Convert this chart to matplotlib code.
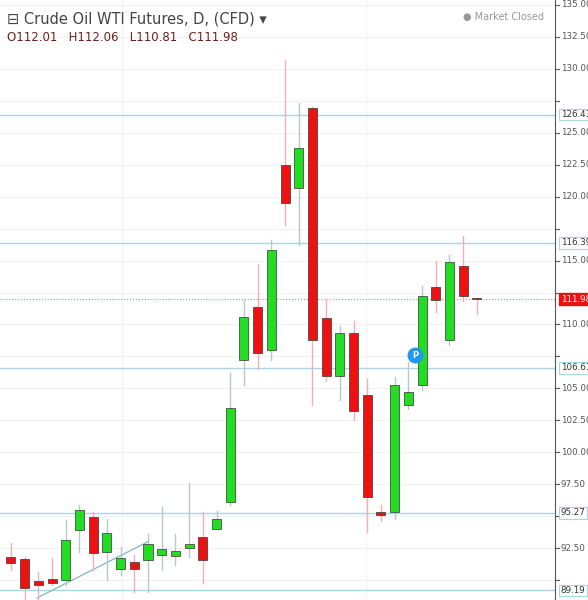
import matplotlib.pyplot as plt
import numpy as np

# daily candles
opens  = [91.8, 91.65, 89.9, 90.1, 90.0, 93.9, 94.9, 92.2, 90.9, 91.4, 91.6, 92.0, 91.9, 92.5, 93.4,
          94.0, 96.1, 107.2, 111.4, 108.0, 122.5, 120.7, 126.9, 110.5, 106.0, 109.3, 104.5, 95.3,
          95.3, 103.7, 105.3, 112.9, 108.8, 114.6, 112.01]
closes = [91.3, 89.4, 89.6, 89.8, 93.1, 95.5, 92.1, 93.7, 91.7, 90.9, 92.8, 92.4, 92.3, 92.8, 91.6,
          94.8, 103.5, 110.6, 107.8, 115.8, 119.5, 123.8, 108.8, 106.0, 109.3, 103.2, 96.5, 95.1,
          105.3, 104.7, 112.2, 111.9, 114.9, 112.2, 111.98]
highs  = [92.9, 91.8, 90.6, 91.7, 94.7, 95.9, 95.3, 94.8, 92.6, 92.0, 93.6, 95.7, 93.6, 97.6, 95.3,
          95.4, 106.2, 111.9, 114.7, 116.6, 130.7, 127.3, 127.0, 111.9, 109.9, 110.3, 105.7, 95.9,
          105.9, 107.1, 113.0, 115.0, 115.4, 116.9, 112.06]
lows   = [90.8, 88.4, 88.5, 89.6, 89.6, 92.2, 90.8, 90.0, 90.4, 89.1, 89.1, 90.8, 91.2, 91.8, 89.8,
          94.6, 95.9, 105.3, 106.5, 107.2, 117.8, 116.2, 103.7, 105.6, 104.1, 102.5, 93.8, 94.6,
          94.8, 103.4, 104.9, 111.0, 108.4, 111.8, 110.81]
levels = [126.43, 116.39, 106.61, 95.27, 89.19]
last_price = 111.98
yticks = np.arange(90, 135.1, 2.5)

fig = plt.figure(figsize=(5.88, 6), dpi=100)
ax = fig.add_axes([0, 0, 555 / 588, 1])
ax.set_xlim(-0.8, 39.7)
ax.set_ylim(88.44, 135.39)

for v in yticks:
    ax.axhline(v, color='#f2f2f2', lw=0.8, zorder=0)
for xv in [8.1, 25.9]:
    ax.axvline(xv, color='#f2f2f2', lw=0.8, zorder=0)

for lv in levels:
    ax.axhline(lv, color='#a8d4e4', lw=1, zorder=1)
ax.axhline(last_price, color='#e08080', lw=0.8, ls=':', zorder=1)

# trend line
ax.plot([1.9, 10.0], [88.6, 93.0], color='#7fb8c0', lw=0.9, zorder=1)

for i, (o, c, h, l) in enumerate(zip(opens, closes, highs, lows)):
    up = c >= o
    col = '#22dd22' if up else '#ee1111'
    wick = '#b8c8d0' if up else '#f0b0b8'
    ax.plot([i, i], [l, h], color=wick, lw=1, zorder=2)
    lo, hi = min(o, c), max(o, c)
    ax.bar(i, max(hi - lo, 0.12), bottom=lo, width=0.66, color=col,
           edgecolor='#333333', linewidth=0.5, zorder=3)

# marker P
ax.scatter([29.5], [107.6], s=110, color='#2196f3', zorder=4)
ax.text(29.5, 107.6, 'P', color='white', fontsize=6, fontweight='bold',
        ha='center', va='center', zorder=5)

ax.set_xticks([])
ax.set_yticks([])
for s in ['top', 'left', 'bottom']:
    ax.spines[s].set_visible(False)
ax.spines['right'].set_color('#555555')

tr = ax.get_yaxis_transform()
for v in yticks:
    ax.plot([1.0, 1.008], [v, v], color='#555555', lw=0.8, transform=tr, clip_on=False)
    if any(abs(v - lv) < 1.2 for lv in levels + [last_price]):
        continue
    ax.text(1.01, v, f'{v:.2f}', transform=tr, fontsize=6.3, color='#555555',
            va='center', ha='left', clip_on=False)
for lv in levels:
    ax.text(1.01, lv, f'{lv:.2f}', transform=tr, fontsize=6.3, color='#333333',
            va='center', ha='left', clip_on=False,
            bbox=dict(boxstyle='square,pad=0.15', fc='white', ec='#a8d4e4', lw=0.8))
ax.text(1.01, last_price, f'{last_price:.2f}', transform=tr, fontsize=6.3, color='white',
        va='center', ha='left', clip_on=False,
        bbox=dict(boxstyle='square,pad=0.15', fc='#ee1111', ec='#ee1111'))

fig.text(0.012, 0.968, '\u229f Crude Oil WTI Futures, D, (CFD) \u25be', fontsize=10.5,
         color='#444444', va='center')
fig.text(0.012, 0.938, 'O112.01   H112.06   L110.81   C111.98', fontsize=8.5,
         color='#6b2020', va='center')
fig.text(0.925, 0.972, '\u25cf Market Closed', fontsize=7, color='#999999',
         va='center', ha='right')

fig.savefig('out.png', dpi=100)
